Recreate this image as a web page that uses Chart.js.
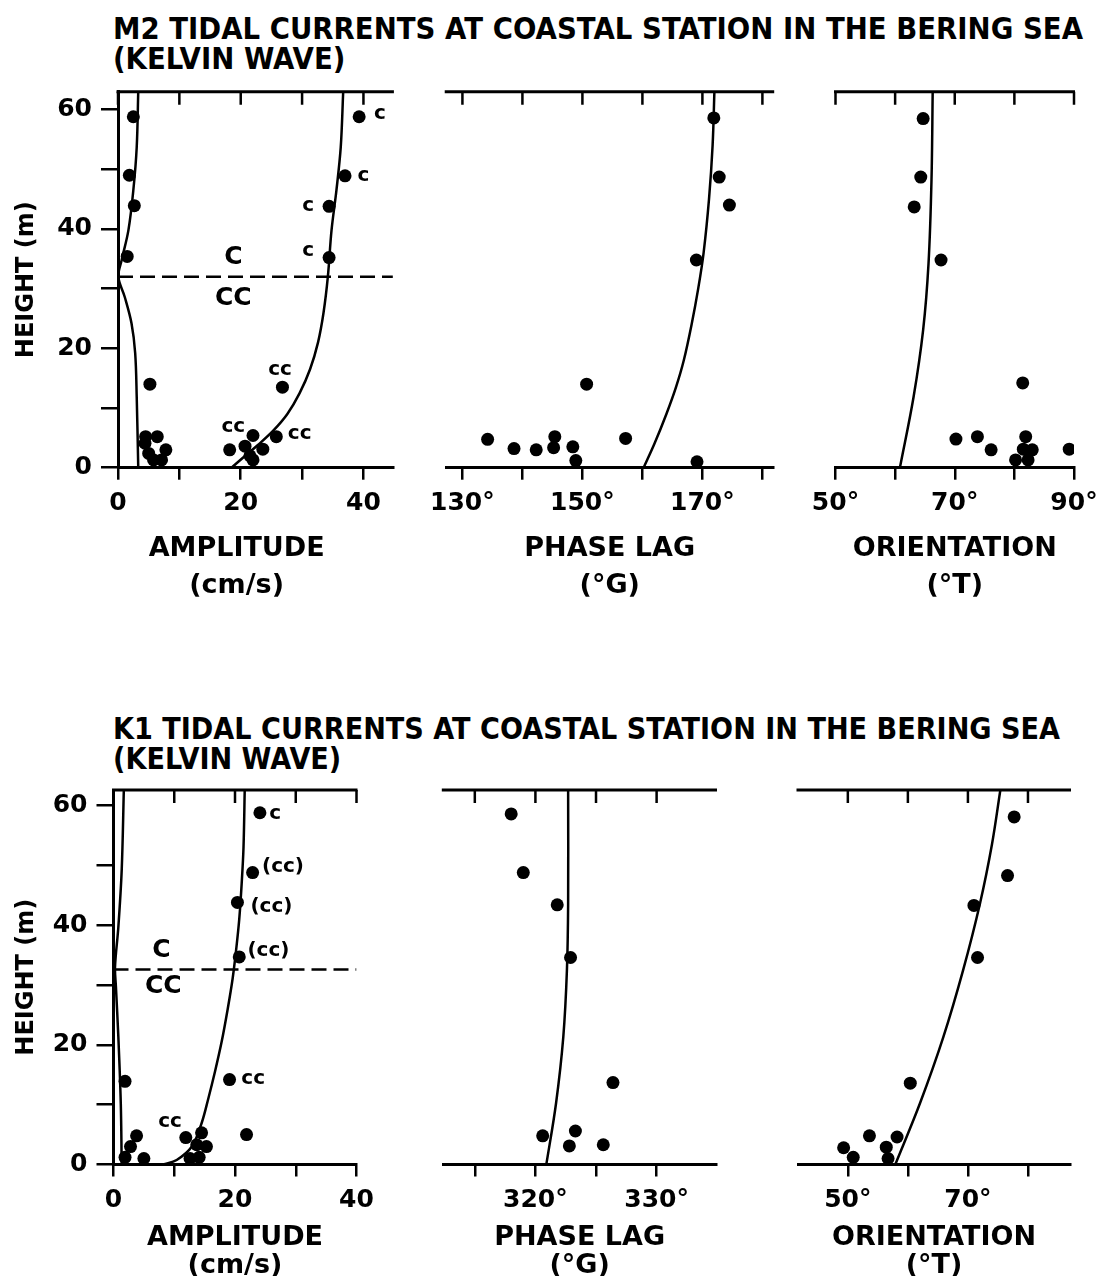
<!DOCTYPE html>
<html>
<head>
<meta charset="utf-8">
<script src="https://cdn.jsdelivr.net/npm/chart.js@4.4.0/dist/chart.umd.min.js"></script>
<style>
body{margin:0;background:#fff;width:1113px;height:1276px;position:relative;overflow:hidden;color:#000}
canvas{position:absolute}
.ttl{position:absolute;left:113px;white-space:nowrap;font-family:"DejaVu Sans",sans-serif;font-weight:bold;font-size:30px;line-height:30px;transform-origin:0 0}
</style>
</head>
<body>
<div class="ttl" id="t1" style="top:14px"><span>M2 TIDAL CURRENTS AT COASTAL STATION IN THE BERING SEA</span><br>(KELVIN WAVE)</div>
<div class="ttl" id="t2" style="top:714px"><span>K1 TIDAL CURRENTS AT COASTAL STATION IN THE BERING SEA</span><br>(KELVIN WAVE)</div>

<canvas id="m2Amp" width="410" height="548" style="left:0;top:62px"></canvas>
<canvas id="m2Phase" width="370" height="548" style="left:420px;top:62px"></canvas>
<canvas id="m2Orient" width="313" height="548" style="left:800px;top:62px"></canvas>
<canvas id="k1Amp" width="400" height="516" style="left:0;top:760px"></canvas>
<canvas id="k1Phase" width="330" height="516" style="left:420px;top:760px"></canvas>
<canvas id="k1Orient" width="343" height="516" style="left:770px;top:760px"></canvas>

<script>
// ---- M2 : observations [value, height m] and model curves ----
const m2AmpDots=[[2.5,58.8],[1.85,49.0],[2.66,43.9],[1.5,35.4],[5.2,14.0],[4.5,5.2],[6.4,5.2],[4.4,4.1],[7.8,3.0],[5.0,2.4],[5.8,1.3],[7.1,1.3],
  [39.3,58.8],[37.0,48.9],[34.4,43.8],[34.4,35.2],[26.8,13.5],[25.8,5.2],[22.0,5.4],[18.2,3.0],[20.7,3.6],[23.6,3.1],[21.5,2.0],[22.0,1.3]];
const m2AmpMinor=[[3.3,0],[3.05,11.9],[2.8,19.2],[2.2,24.2],[1.1,28.6],[0.05,32],[0.6,34.8],[1.7,39.8],[2.5,46.5],[3.05,53.7],[3.3,63]];
const m2AmpMajor=[[18.5,0],[20.5,1.8],[22.8,3.8],[25.3,6.2],[27.6,9.0],[29.6,12.5],[31.3,16.5],[32.6,21],[33.5,26],[34.2,32],[34.8,39.8],[35.6,46.5],[36.3,53.7],[36.7,63]];
const m2Reversal=[[0,32],[44.8,32]];
const m2AmpNotes=[[42.7,59.3,"c"],[40.0,48.9,"c"],[31.0,43.8,"c"],[31.0,36.3,"c"],[26.4,16.4,"cc"],[18.8,6.9,"cc"],[29.6,5.6,"cc"]];
const m2SenseNotes=[[18.8,35.3,"C"],[18.8,28.4,"CC"]];

const m2PhaseDots=[[171.9,58.6],[172.8,48.7],[174.5,44.0],[169.0,34.8],[150.7,14.0],[134.2,4.75],[138.6,3.2],[142.3,3.0],[145.4,5.2],[145.2,3.35],[148.4,3.5],[148.9,1.2],[157.2,4.9],[169.1,1.0]];
const m2PhaseCurve=[[160.2,0],[162.0,4],[164.0,9],[165.6,13.5],[166.9,18],[168.2,24],[169.3,30],[170.2,36],[171.1,45],[171.7,54],[172.0,63]];

const m2OrientDots=[[64.7,58.5],[64.3,48.7],[63.2,43.7],[67.7,34.8],[81.4,14.2],[70.2,4.8],[73.8,5.2],[76.1,3.0],[81.9,5.2],[81.5,3.1],[83.0,3.0],[82.3,1.3],[80.2,1.3],[89.2,3.1]];
const m2OrientCurve=[[60.8,0],[63.1,11.9],[64.7,23.1],[65.6,34.2],[66.1,48.2],[66.3,63]];

// ---- K1 ----
const k1AmpDots=[[24.1,58.8],[22.9,48.8],[20.4,43.8],[20.7,34.7],[1.9,13.9],[19.1,14.2],[21.9,5.0],[3.8,4.8],[2.8,3.0],[1.9,1.2],[5.0,1.0],
  [11.9,4.5],[14.5,5.3],[13.7,3.3],[15.3,3.0],[12.6,1.0],[14.1,1.2]];
const k1AmpMinor=[[1.35,0],[1.2,10.2],[0.8,21.3],[0.4,29.7],[0.25,33],[0.8,39.7],[1.35,49.2],[1.7,62.6]];
const k1AmpMajor=[[8.2,0],[10.4,0.75],[12.9,3.0],[14.5,6.9],[15.6,11],[16.7,15.5],[17.8,20.5],[18.8,26],[19.6,31],[20.2,36],[20.7,41],[21.1,47],[21.4,53],[21.6,62.6]];
const k1Reversal=[[0,32.6],[40,32.6]];
const k1AmpNotes=[[26.6,58.6,"c"],[27.9,49.7,"(cc)"],[26.0,43.0,"(cc)"],[25.5,35.8,"(cc)"],[23.0,14.4,"cc"],[9.3,7.1,"cc"]];
const k1SenseNotes=[[7.9,35.8,"C"],[8.2,29.7,"CC"]];

const k1PhaseDots=[[318.0,58.6],[319.0,48.8],[321.8,43.4],[322.9,34.6],[326.4,13.7],[320.6,4.8],[323.3,5.6],[322.8,3.1],[325.6,3.3]];
const k1PhaseCurve=[[320.9,0],[321.7,10.2],[322.3,21.3],[322.6,32.5],[322.7,43.6],[322.7,62.6]];

const k1OrientDots=[[77.7,58.1],[76.6,48.3],[71.0,43.3],[71.6,34.6],[60.4,13.6],[53.6,4.8],[58.2,4.6],[49.3,2.8],[50.9,1.2],[56.4,2.9],[56.7,1.0]];
const k1OrientCurve=[[57.9,0],[62.0,10.2],[65.9,21.3],[69.2,32.5],[72.0,43.6],[74.0,53.5],[75.4,62.6]];

// labelled ticks
const ampTickLabels=[0,20,40];
const m2PhaseTickLabels=[130,150,170];
const m2OrientTickLabels=[50,70,90];
const k1PhaseTickLabels=[320,330];
const k1OrientTickLabels=[50,70];
const heightTickLabels=[0,20,40,60];

Chart.defaults.font.family='"DejaVu Sans", sans-serif';
Chart.defaults.font.weight='bold';
Chart.defaults.color='#000';

const pts=l=>l.map(p=>({x:p[0],y:p[1]}));
const dots=l=>({data:pts(l),pointRadius:6.5,pointBackgroundColor:'#000',pointBorderWidth:0,showLine:false});
const curve=l=>({data:pts(l),pointRadius:0,showLine:true,borderColor:'#000',borderWidth:2.5,tension:0.35,fill:false});
const dashed=l=>({data:pts(l),pointRadius:0,showLine:true,borderColor:'#000',borderWidth:2.5,borderDash:[15,7]});

const framePlugin={
  id:'frame',
  afterDraw(chart,args,opts){
    const {ctx,chartArea:a,scales:{x,y}}=chart;
    ctx.save();
    ctx.strokeStyle='#000';ctx.lineWidth=3;
    ctx.beginPath();
    ctx.moveTo(a.left-1.5,a.top);ctx.lineTo(a.right+1,a.top);
    ctx.stroke();
    ctx.lineWidth=2.5;
    ctx.beginPath();
    x.ticks.forEach(t=>{const px=x.getPixelForValue(t.value);ctx.moveTo(px,a.top);ctx.lineTo(px,a.top+13);});
    ctx.stroke();
    ctx.fillStyle='#000';ctx.textAlign='center';ctx.textBaseline='middle';
    ctx.font='bold 20px "DejaVu Sans"';
    (opts.notes||[]).forEach(n=>ctx.fillText(n[2],x.getPixelForValue(n[0]),y.getPixelForValue(n[1])));
    ctx.font='bold 25px "DejaVu Sans"';
    (opts.bigNotes||[]).forEach(n=>ctx.fillText(n[2],x.getPixelForValue(n[0]),y.getPixelForValue(n[1])));
    ctx.restore();
  }
};

function panel(id,o){
  const grid={display:true,drawOnChartArea:false,drawTicks:true,color:'#000',lineWidth:2.5};
  return new Chart(document.getElementById(id),{
    type:'scatter',
    data:{datasets:o.datasets},
    options:{
      responsive:false,animation:false,events:[],
      layout:{padding:o.pad},
      plugins:{legend:{display:false},tooltip:{enabled:false},frame:{notes:o.notes,bigNotes:o.bigNotes}},
      scales:{
        x:{type:'linear',position:'bottom',min:o.xMin,max:o.xMax,
          grid:{...grid,tickLength:12},
          border:{display:true,color:'#000',width:3},
          ticks:{stepSize:o.step,autoSkip:false,includeBounds:false,maxRotation:0,padding:9,font:{size:25},
            callback:v=>o.labels.includes(v)?v+o.unit:''},
          title:{display:true,text:o.xTitle,font:{size:27,lineHeight:o.titleLH},padding:{top:0,bottom:o.titlePad}},
          afterFit:s=>{s.height=o.xHeight;}
        },
        y:{type:'linear',position:'left',min:0,max:o.yMax,display:o.showY,
          grid:{...grid,tickLength:17},
          border:{display:true,color:'#000',width:3},
          ticks:{stepSize:10,autoSkip:false,includeBounds:false,padding:9,font:{size:25},
            callback:v=>heightTickLabels.includes(v)?String(v):''},
          title:{display:true,text:'HEIGHT (m)',font:{size:24},padding:{top:12,bottom:0}},
          afterFit:s=>{if(o.showY) s.width=o.yWidth;}
        }
      }
    },
    plugins:[framePlugin]
  });
}

const topRow={yMax:63,xHeight:142.3,titleLH:37/27,titlePad:6};
const botRow={yMax:62.6,xHeight:111.5,titleLH:28/27,titlePad:-4};
const topPad={top:29.7,bottom:0};
const botPad={top:30,bottom:0};

panel('m2Amp',{...topRow,showY:true,yWidth:118,pad:{...topPad,left:0,right:17.1},
  xMin:0,xMax:44.8,step:10,labels:ampTickLabels,unit:'',
  xTitle:['AMPLITUDE\u00a0\u00a0\u00a0\u00a0','(cm/s)\u00a0\u00a0\u00a0\u00a0'],
  datasets:[curve(m2AmpMinor),curve(m2AmpMajor),dashed(m2Reversal),dots(m2AmpDots)],
  notes:m2AmpNotes,bigNotes:m2SenseNotes});
panel('m2Phase',{...topRow,showY:false,pad:{...topPad,left:21.8,right:16.8},
  xMin:127.3,xMax:181.8,step:10,labels:m2PhaseTickLabels,unit:'°',xTitle:['PHASE LAG','(°G)'],
  datasets:[curve(m2PhaseCurve),dots(m2PhaseDots)]});
panel('m2Orient',{...topRow,showY:false,pad:{...topPad,left:35.5,right:39},
  xMin:50,xMax:90,step:10,labels:m2OrientTickLabels,unit:'°',xTitle:['ORIENTATION','(°T)'],
  datasets:[curve(m2OrientCurve),dots(m2OrientDots)]});

panel('k1Amp',{...botRow,showY:true,yWidth:113.5,pad:{...botPad,left:0,right:43.5},
  xMin:0,xMax:40,step:10,labels:ampTickLabels,unit:'',xTitle:['AMPLITUDE','(cm/s)'],
  datasets:[curve(k1AmpMinor),curve(k1AmpMajor),dashed(k1Reversal),dots(k1AmpDots)],
  notes:k1AmpNotes,bigNotes:k1SenseNotes});
panel('k1Phase',{...botRow,showY:false,pad:{...botPad,left:23.3,right:34},
  xMin:312.4,xMax:334.9,step:5,labels:k1PhaseTickLabels,unit:'°',xTitle:['PHASE LAG','(°G)'],
  datasets:[curve(k1PhaseCurve),dots(k1PhaseDots)]});
panel('k1Orient',{...botRow,showY:false,pad:{...botPad,left:28,right:43},
  xMin:41.7,xMax:87,step:10,labels:k1OrientTickLabels,unit:'°',xTitle:['ORIENTATION','(°T)'],
  datasets:[curve(k1OrientCurve),dots(k1OrientDots)]});

// fit title lines to the lettered width
[['t1',970],['t2',947]].forEach(([id,w])=>{
  const el=document.getElementById(id);
  const s=w/el.querySelector('span').getBoundingClientRect().width;
  el.style.transform='scaleX('+s+')';
});
</script>
</body>
</html>
